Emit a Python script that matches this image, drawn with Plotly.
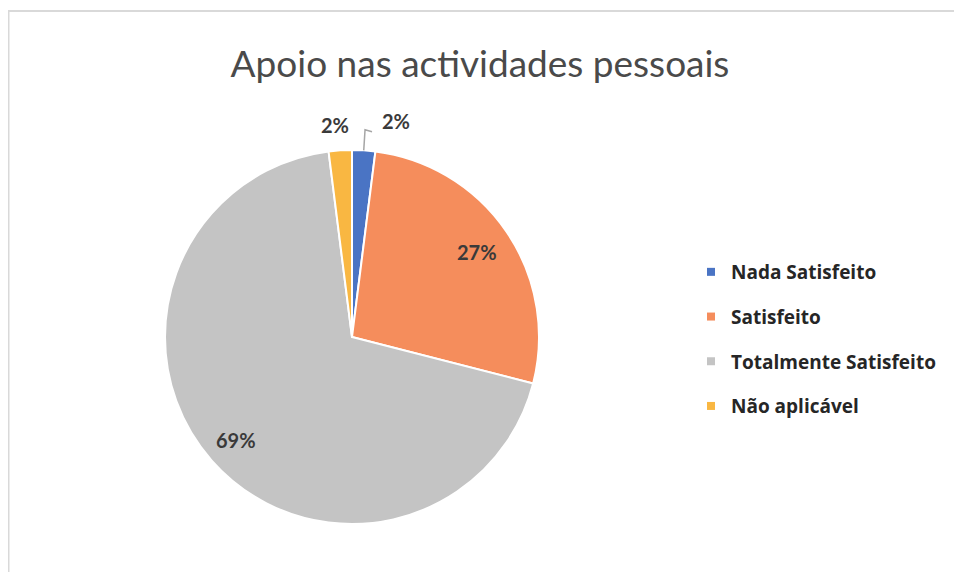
import math
import plotly.graph_objects as go

categories = ["Nada Satisfeito", "Satisfeito", "Totalmente Satisfeito", "Não aplicável"]
values = [2, 27, 69, 2]
slice_colors = ["#4A74C4", "#F58D5C", "#C4C4C4", "#F9B742"]

FONT = "Lato, 'Open Sans', sans-serif"
W, H = 946, 564          # the page adds an 8px body margin on every side
CX, CY, R = 344, 329, 187  # pie centre / radius in px

# label placement (Excel "best fit"): radius factor and angle nudge per slice
label_r = [1.18, 0.81, 0.83, 1.14]
label_nudge = [8, 0, 0, -1]

fig = go.Figure()

fig.add_trace(
    go.Pie(
        labels=categories,
        values=values,
        sort=False,
        direction="clockwise",
        rotation=0,
        marker=dict(colors=slice_colors, line=dict(color="white", width=2)),
        textinfo="none",
        domain=dict(x=[(CX - R) / W, (CX + R) / W], y=[(H - CY - R) / H, (H - CY + R) / H]),
        hoverinfo="label+percent",
        showlegend=False,
    )
)

# legend entries (separate groups so the spacing can match the original)
for name, col in zip(categories, slice_colors):
    fig.add_trace(
        go.Scatter(
            x=[None], y=[None], mode="markers", name=name, legendgroup=name,
            marker=dict(symbol="square", size=8, color=col),
        )
    )

total = sum(values)
start = 0.0
for i, v in enumerate(values):
    mid = (start + v / 2) / total * 360 + label_nudge[i]
    start += v
    a = math.radians(mid)
    px = CX + R * label_r[i] * math.sin(a)
    py = CY - R * label_r[i] * math.cos(a)
    fig.add_annotation(
        x=px / W, y=1 - py / H, xref="paper", yref="paper",
        xanchor="center", yanchor="middle",
        text=f"<b>{v / total:.0%}</b>", showarrow=False,
        font=dict(family=FONT, size=20, color="#3A3A3A"),
    )

# leader line for the small blue slice
a0 = math.radians(values[0] / 2 / total * 360)
x1, y1 = CX + R * math.sin(a0), CY - R * math.cos(a0)
x2, y2 = CX + R * 1.11 * math.sin(a0), CY - R * 1.11 * math.cos(a0)
fig.add_shape(
    type="path", xref="paper", yref="paper",
    path=f"M {x1 / W} {1 - y1 / H} L {x2 / W} {1 - y2 / H} L {(x2 + 7) / W} {1 - (y2 + 2) / H}",
    line=dict(color="#A6A6A6", width=1.5),
)

# chart frame (only top and left edges are visible in the scan)
fig.add_shape(type="line", xref="paper", yref="paper", x0=0, x1=1, y0=1 - 3 / H, y1=1 - 3 / H,
              line=dict(color="#D9D9D9", width=2))
fig.add_shape(type="line", xref="paper", yref="paper", x0=0.5 / W, x1=0.5 / W, y0=0, y1=1 - 3 / H,
              line=dict(color="#D9D9D9", width=2))

fig.update_layout(
    title=dict(
        text="Apoio nas actividades pessoais",
        x=472 / W, xanchor="center", y=1 - 56 / H, yanchor="middle",
        font=dict(family=FONT, size=37, color="#4A4A4A"),
    ),
    width=W,
    height=H,
    margin=dict(l=0, r=0, t=0, b=0),
    paper_bgcolor="white",
    plot_bgcolor="rgba(0,0,0,0)",
    xaxis=dict(visible=False),
    yaxis=dict(visible=False),
    legend=dict(
        x=683 / W, y=1 - 245 / H, xanchor="left", yanchor="top",
        font=dict(family="'Open Sans', sans-serif", size=19, color="#262626", weight="bold"),
        tracegroupgap=17,
        itemwidth=30,
        bgcolor="rgba(0,0,0,0)",
    ),
    showlegend=True,
)

fig.write_html("out.html")
